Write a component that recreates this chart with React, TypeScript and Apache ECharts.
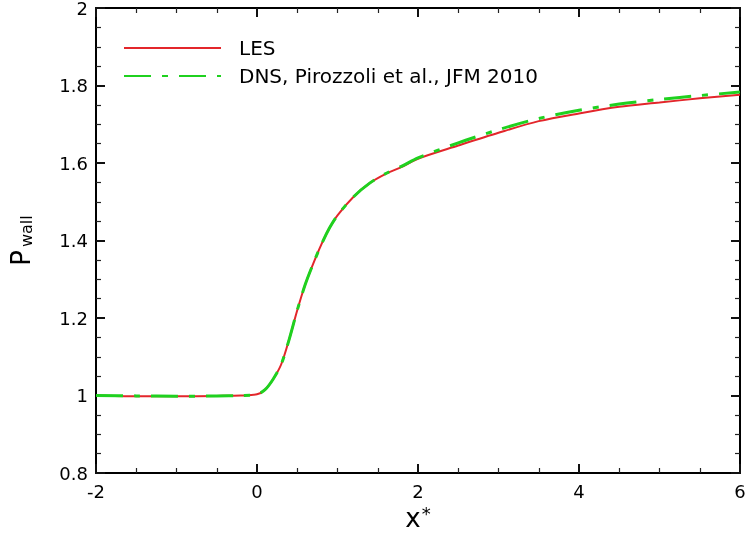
import React, { useEffect, useRef } from "react";
import * as echarts from "echarts";

const xValues = [-2, -1.5, -1, -0.5, -0.2, 0, 0.1, 0.2, 0.3, 0.4, 0.5, 0.6, 0.7, 0.8, 0.9, 1.0, 1.2, 1.4, 1.6, 1.8, 2.0, 2.5, 3.0, 3.5, 4.0, 4.5, 5.0, 5.5, 6.0];
const lesValues = [1.0, 0.998, 0.998, 0.999, 1.0, 1.003, 1.015, 1.042, 1.08, 1.145, 1.22, 1.287, 1.341, 1.39, 1.432, 1.465, 1.513, 1.548, 1.572, 1.59, 1.611, 1.645, 1.678, 1.708, 1.728, 1.745, 1.756, 1.767, 1.776];
const dnsValues = [1.0, 0.999, 0.998, 0.999, 1.0, 1.003, 1.015, 1.042, 1.08, 1.145, 1.22, 1.287, 1.341, 1.39, 1.432, 1.465, 1.513, 1.548, 1.573, 1.592, 1.613, 1.652, 1.686, 1.715, 1.736, 1.752, 1.764, 1.774, 1.783];
const seriesNames = ["LES", "DNS, Pirozzoli et al., JFM 2010"];
const xTicks = { min: -2, max: 6, interval: 2 };
const yTicks = { min: 0.8, max: 2, interval: 0.2 };

const FONT = "DejaVu Sans";

function makeAxis(position: string, range: any, label: any, extra: any) {
  return {
    type: "value",
    position,
    min: range.min,
    max: range.max,
    interval: range.interval,
    axisLine: { show: true, onZero: false, lineStyle: { color: "#000", width: 2 } },
    axisTick: { show: true, inside: true, length: 9, lineStyle: { color: "#111", width: 2 } },
    minorTick: { show: true, splitNumber: 4, length: 5, lineStyle: { color: "#222", width: 1.2 } },
    splitLine: { show: false },
    axisLabel: label,
    ...extra,
  };
}

export default function App() {
  const ref = useRef<HTMLDivElement>(null);
  useEffect(() => {
    if (!ref.current) return;
    const chart = echarts.init(ref.current, null, { renderer: "svg" });
    const labelOn = { show: true, color: "#000", fontSize: 18, fontFamily: FONT, margin: 9 };
    const option: any = {
      animation: false,
      grid: { left: 96, right: 9, top: 8, bottom: 60, outerBoundsMode: "none" },
      xAxis: [
        makeAxis("bottom", xTicks, labelOn, {
          name: "{x|x}{s|*}",
          nameLocation: "middle",
          nameGap: 30,
          nameTextStyle: {
            rich: {
              x: { fontSize: 26, fontFamily: FONT, color: "#000", lineHeight: 26, verticalAlign: "bottom" },
              s: { fontSize: 18, fontFamily: FONT, color: "#000", lineHeight: 18, verticalAlign: "top", padding: [0, 0, 0, 1] },
            },
          },
        }),
        makeAxis("top", xTicks, { show: false }, {}),
      ],
      yAxis: [
        makeAxis("left", yTicks, { ...labelOn, margin: 8 }, {
          name: "{p|P}{s|wall}",
          nameLocation: "middle",
          nameRotate: 90,
          nameGap: 62,
          nameTextStyle: {
            rich: {
              p: { fontSize: 26, fontFamily: FONT, color: "#000", lineHeight: 26, verticalAlign: "top" },
              s: { fontSize: 16, fontFamily: FONT, color: "#000", lineHeight: 16, verticalAlign: "bottom", padding: [22, 0, 0, 3] },
            },
          },
        }),
        makeAxis("right", yTicks, { show: false }, {}),
      ],
      legend: {
        orient: "vertical",
        left: 118,
        top: 33,
        itemWidth: 97,
        itemHeight: 20,
        itemGap: 8,
        itemStyle: { opacity: 0 },
        textStyle: { color: "#000", fontSize: 20, fontFamily: FONT, lineHeight: 20, padding: [0, 0, 0, 13] },
        data: seriesNames,
      },
      series: [
        {
          name: seriesNames[0],
          type: "line",
          data: xValues.map((x, i) => [x, lesValues[i]]),
          showSymbol: false,
          symbol: "none",
          smooth: 0.3,
          lineStyle: { color: "#e3262b", width: 2 },
          itemStyle: { color: "#e3262b" },
        },
        {
          name: seriesNames[1],
          type: "line",
          data: xValues.map((x, i) => [x, dnsValues[i]]),
          showSymbol: false,
          symbol: "none",
          smooth: 0.3,
          lineStyle: { color: "#1fd11f", width: 3, type: [27, 11, 6, 11] },
          itemStyle: { color: "#1fd11f" },
        },
      ],
    };
    chart.setOption(option);
    return () => chart.dispose();
  }, []);
  return <div ref={ref} style={{ position: "fixed", left: 0, top: 0, width: 749, height: 533 }} />;
}
